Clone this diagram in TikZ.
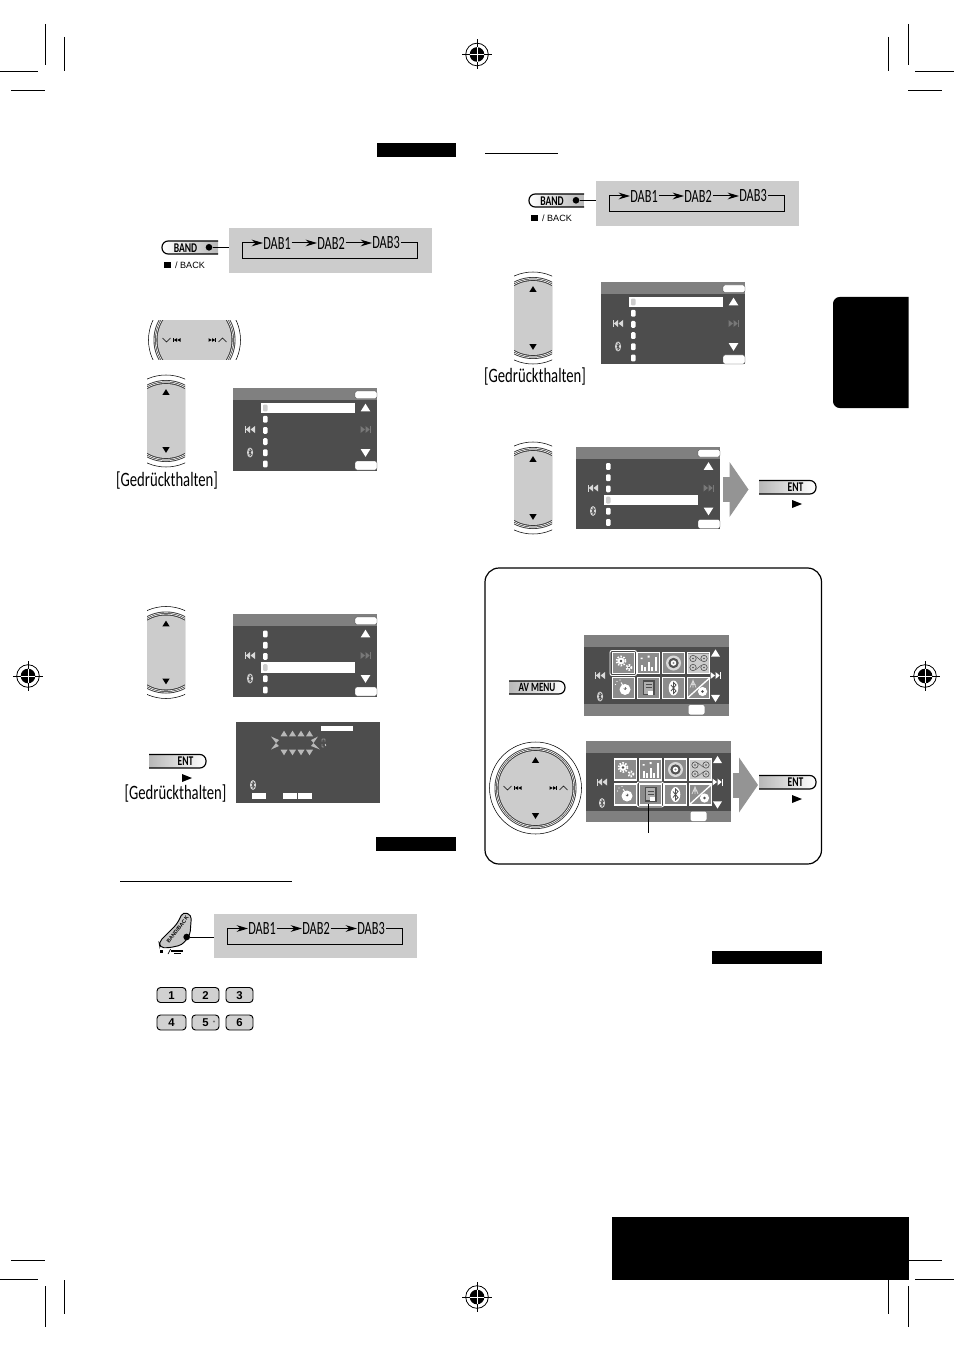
\documentclass[tikz,border=0pt]{standalone}
\usepackage{fontspec}
\setmainfont{Liberation Sans}
\newfontfamily\cond[FakeStretch=0.72]{Carlito}
\newfontfamily\condb[FakeStretch=0.66]{Carlito}
\usetikzlibrary{arrows.meta}
\definecolor{scrn}{HTML}{4D4D4D}
\definecolor{sbar}{HTML}{808080}
\definecolor{boxg}{HTML}{CCCCCC}
\definecolor{dimg}{HTML}{787878}
\definecolor{icong}{HTML}{8C8C8C}
\tikzset{
 crop/.style={line width=0.7pt,black},
 ring/.style={line width=0.4pt,black},
 dablabel/.style={font=\condb\fontsize{14}{14}\selectfont,inner sep=0pt},
 holdlabel/.style={font=\cond\fontsize{15.3}{16}\selectfont,inner sep=0pt},
 btnlabel/.style={font=\bfseries\cond\fontsize{10}{10}\selectfont,inner sep=0pt},
 entlabel/.style={font=\bfseries\cond\fontsize{10}{10}\selectfont,inner sep=0pt},
 smalllabel/.style={font=\fontsize{6.8}{7}\selectfont,inner sep=0pt},
 flowline/.style={line width=0.75pt,black},
 flowarrow/.style={line width=0.75pt,black,-{Stealth[length=8.5pt,width=5pt]}},
 graybox/.style={fill=boxg,draw=none,inner sep=0pt,minimum width=152.5pt,minimum height=33.5pt},
 leaddot/.style={circle,fill=black,inner sep=0pt,minimum size=5pt},
 keylabel/.style={font=\bfseries\fontsize{8.5}{9}\selectfont,inner sep=0pt},
}
\newcommand{\tup}[4]{\fill[#4] (#1-#3,#2+#3*0.8) -- (#1+#3,#2+#3*0.8) -- (#1,#2-#3*0.8) -- cycle;}
\newcommand{\tdown}[4]{\fill[#4] (#1-#3,#2-#3*0.8) -- (#1+#3,#2-#3*0.8) -- (#1,#2+#3*0.8) -- cycle;}
\newcommand{\skipback}[3]{\begin{scope}[shift={(#1,#2)}]
 \fill[#3] (-5.5,-3.5) rectangle (-4.2,3.5);
 \fill[#3] (-4.2,0) -- (0,-3.5) -- (0,3.5) -- cycle;
 \fill[#3] (0.5,0) -- (5,-3.5) -- (5,3.5) -- cycle;
\end{scope}}
\newcommand{\skipfwd}[3]{\begin{scope}[shift={(#1,#2)}]
 \fill[#3] (5.5,-3.5) rectangle (4.2,3.5);
 \fill[#3] (4.2,0) -- (0,-3.5) -- (0,3.5) -- cycle;
 \fill[#3] (-0.5,0) -- (-5,-3.5) -- (-5,3.5) -- cycle;
\end{scope}}
\newcommand{\btooth}[2]{\begin{scope}[shift={(#1,#2)}]
 \fill[white!85!black] (0,0) ellipse (3 and 5);
 \draw[scrn,line width=0.4pt] (-1.5,-1.8) -- (1.5,1.8) -- (0,3.5) -- (0,-3.5) -- (1.5,-1.8) -- (-1.5,1.8);
\end{scope}}
\newcommand{\listscreen}[3]{\begin{scope}[shift={(#1,#2)}]
 \fill[scrn] (0,0) rectangle (144,82.5);
 \fill[sbar] (0,0) rectangle (144,12);
 \fill[white,draw=scrn,line width=0.3pt,rounded corners=1.2pt] (122,3) rectangle (144,10.5);
 \fill[white,draw=scrn,line width=0.3pt,rounded corners=1.5pt] (122,73) rectangle (144,82);
 \fill[white] (28,{20+11.2*#3-5.2}) rectangle (122,{20+11.2*#3+5.2});
 \foreach \r in {0,...,5}{
  \ifnum\r=#3\relax\def\dc{boxg}\else\def\dc{white}\fi
  \fill[\dc,rounded corners=0.8pt] (30,{20+11.2*\r-3.4}) rectangle (34.5,{20+11.2*\r+3.4});
 }
 \tup{132.5}{19.5}{4.8}{white}
 \skipfwd{132.5}{41.5}{dimg}
 \tdown{132.5}{65}{4.8}{white}
 \skipback{17}{41.5}{white!85!black}
 \btooth{17}{64.5}
\end{scope}}
\newcommand{\wheelbody}{%
 \fill[white] (0,0) circle (45.7);
 \draw[ring] (0,0) circle (46);
 \fill[black!78] (0,0) circle (41);
 \draw[white,line width=0.45pt] (0,0) circle (39.8);
 \draw[white,line width=0.45pt] (0,0) circle (38.4);
 \fill[boxg] (0,0) circle (37);
}
\newcommand{\chevl}{\draw[black,line width=0.5pt] (-32,-2) -- (-28,2) -- (-24,-2);
 \fill[black] (-21.5,-1.8) rectangle (-20.8,1.8); \fill[black] (-20.8,0) -- (-17.5,-1.8) -- (-17.5,1.8) -- cycle; \fill[black] (-17.2,0) -- (-14,-1.8) -- (-14,1.8) -- cycle;}
\newcommand{\chevr}{\draw[black,line width=0.5pt] (32,2) -- (28,-2) -- (24,2);
 \fill[black] (21.5,-1.8) rectangle (20.8,1.8); \fill[black] (20.8,0) -- (17.5,-1.8) -- (17.5,1.8) -- cycle; \fill[black] (17.2,0) -- (14,-1.8) -- (14,1.8) -- cycle;}
\newcommand{\vwheel}[2]{\begin{scope}[shift={(#1,#2)}]
 \begin{scope}
  \clip (-19,-47) rectangle (19,47);
  \wheelbody
 \end{scope}
 \tup{0}{-29}{3.6}{black}
 \tdown{0}{29}{3.6}{black}
\end{scope}}
\newcommand{\hwheel}[2]{\begin{scope}[shift={(#1,#2)}]
 \begin{scope}
  \clip (-47,-19.5) rectangle (47,19.5);
  \wheelbody
 \end{scope}
 \chevl\chevr
\end{scope}}
\newcommand{\fullwheel}[2]{\begin{scope}[shift={(#1,#2)}]
 \wheelbody
 \tup{0}{-28}{3.6}{black}
 \tdown{0}{28}{3.6}{black}
 \chevl\chevr
\end{scope}}
\newcommand{\pillL}[4]{%
 \shade[left color=white,middle color=black!18,right color=black!28,rounded corners=4.6pt] (#2,#3) -- (#1,#3) -- (#1,#4) -- (#2,#4);
 \draw[black,line width=0.9pt,rounded corners=4.6pt] (#2,#3) -- (#1,#3) -- (#1,#4) -- (#2,#4);}
\newcommand{\pillR}[4]{%
 \shade[left color=black!28,middle color=black!18,right color=white,rounded corners=4.6pt] (#1,#3) -- (#2,#3) -- (#2,#4) -- (#1,#4);
 \draw[black,line width=0.9pt,rounded corners=4.6pt] (#1,#3) -- (#2,#3) -- (#2,#4) -- (#1,#4);}
\newcommand{\entbtn}[3]{%
 \pillR{#2}{#2+57}{#3}{#3+13.5}
 \node[entlabel] (#1) at (#2+36.5,#3+7) {ENT};
 \fill[black] (#2+33,#3+19.5) -- (#2+43,#3+23.5) -- (#2+33,#3+27.5) -- cycle;
}
\newcommand{\dabflow}[3]{\begin{scope}[shift={(#2,#3)}]
 \node[graybox] (#1box) at (101.5,22.5) {};
 \node[dablabel] (#1a) at (48,15) {DAB1};
 \node[dablabel] (#1b) at (102,15) {DAB2};
 \node[dablabel] (#1c) at (157,15) {DAB3};
 \coordinate (#1l) at (13,31);
 \coordinate (#1r) at (188,31);
 \draw[flowarrow] (#1a.east) ++(0.5pt,0) -- (#1b.west);
 \draw[flowarrow] (#1b.east) ++(0.5pt,0) -- (#1c.west);
 \draw[flowline] (#1c.east) ++(1pt,0) -- (#1r |- #1c.east) -- (#1r) -- (#1l) -- (#1l |- #1a.west);
 \draw[flowarrow] (#1l |- #1a.west) -- (#1a.west);
\end{scope}}
\newcommand{\regmark}[2]{\begin{scope}[shift={(#1,#2)}]
 \draw[black,line width=0.6pt] (0,0) circle (11.3);
 \fill[black] (0,0) circle (7.3);
 \draw[black,line width=0.5pt] (-15,0) -- (-7,0) (7,0) -- (15,0) (0,-15) -- (0,-7) (0,7) -- (0,15);
 \draw[white,line width=0.7pt] (-7.3,0) -- (7.3,0) (0,-7.3) -- (0,7.3);
\end{scope}}
\newcommand{\gear}[3]{%
 \draw[white,line width=1.3pt,dash pattern=on 1.1pt off 1.1pt] (#1,#2) circle (#3);
 \fill[white] (#1,#2) circle (#3*0.75);
 \fill[scrn] (#1,#2) circle (#3*0.3);}
\newcommand{\micon}[3]{\begin{scope}[shift={(#1,#2)}]
 \fill[icong] (0,0) rectangle (23,21);
 \draw[white,line width=1pt] (0,0) -- (23,0) (0,21) -- (23,21) (0.3,0) -- (0.3,21) (22.7,0) -- (22.7,21);
 \ifcase#3
  \gear{9}{8.5}{4.6}
  \gear{17}{15}{2.6}
 \or
  \foreach \bx/\bt in {3.5/12,7/14,10.5/9,14/14,17.5/4}{\fill[white] (\bx,18.5) rectangle (\bx+2.2,\bt);}
  \fill[white] (3.5,5) rectangle (5.7,6.5) (10.5,3) rectangle (12.7,5);
 \or
  \fill[white!85!black] (11.5,10.5) circle (7.5); \fill[icong!60!black] (11.5,10.5) circle (5.2); \fill[white] (11.5,10.5) circle (2.8); \fill[icong] (11.5,10.5) circle (1.2);
 \or
  \fill[white!55!icong] (1,1) rectangle (22,20);
  \foreach \cx/\cy in {6/6,17/6,6/15,17/15}{\draw[scrn,line width=0.45pt] (\cx,\cy) circle (3.2); \fill[scrn] (\cx,\cy) circle (0.9);}
  \draw[scrn,line width=0.3pt] (9,4) -- (14,8) (9,17) -- (14,13);
 \or
  \fill[white] (13,12) circle (5.5); \fill[scrn] (13,11) circle (1.5);
  \fill[white] (5,4) circle (0.7) (8,2.5) circle (0.7) (3.5,7) circle (0.7);
  \draw[white,line width=0.7pt] (13,11) -- (9,5);
 \or
  \draw[scrn,line width=0.8pt,fill=icong!70!white] (6.5,3.5) rectangle (17,17);
  \draw[scrn,line width=0.5pt] (8.5,7) -- (15,7) (8.5,10) -- (15,10);
  \fill[white] (11,13) rectangle (16,17);
 \or
  \fill[white] (11.5,10.5) ellipse (4.8 and 7.5);
  \draw[scrn,line width=0.6pt] (9,7.5) -- (14,13.5) -- (11.5,16) -- (11.5,5) -- (14,7.5) -- (9,13.5);
 \or
  \draw[white,line width=1pt] (22,1) -- (1,20);
  \draw[white!85!black,line width=0.6pt] (6,2) -- (6,10) (3,10) -- (6,3) -- (9,10) (3.5,7) -- (8.5,7);
  \fill[white] (15.5,14) circle (4.6); \fill[scrn] (15.5,14) circle (1.4);
 \fi
\end{scope}}
\newcommand{\menuscreen}[4]{\begin{scope}[shift={(#1,#2)}]
 \fill[scrn] (0,0) rectangle (145.5,81);
 \fill[sbar] (0,0) rectangle (145.5,12);
 \fill[sbar] (0,69.5) rectangle (145.5,81);
 \foreach \i/\c/\r in {0/0/0,1/1/0,2/2/0,3/3/0,4/0/1,5/1/1,6/2/1,7/3/1}{
  \micon{{28.5+25*\c}}{{18+25*\r}}{\i}
 }
 \draw[white,line width=0.7pt,rounded corners=1.5pt] ({26.5+25*#3},{16+25*#4}) rectangle ({53+25*#3},{41+25*#4});
 \fill[white,rounded corners=1.5pt] (105,70.5) rectangle (121,80);
 \tup{132}{18.5}{4.5}{white}
 \skipfwd{132}{41}{white}
 \tdown{132}{64}{4.5}{white}
 \skipback{16.5}{41}{white!85!black}
 \btooth{16.5}{62}
\end{scope}}
\newcommand{\bigarrow}[2]{\begin{scope}[shift={(#1,#2)}]
 \fill[black!42] (0,-12.5) rectangle (7,12.5);
 \fill[black!42] (6.5,-27.5) -- (25.5,0) -- (6.5,27.5) -- cycle;
\end{scope}}
\newcommand{\numkey}[4]{%
 \fill[black!18,draw=black,line width=0.7pt,rounded corners=2.6pt] (#2,#4) rectangle (#3,#4+15);
 \node[keylabel] (key#1) at ({(#2+#3)/2},#4+7.8) {#1};
}
\begin{document}
\begin{tikzpicture}[x=0.75pt,y=-0.75pt]
\useasboundingbox (0,0) rectangle (954,1351);
\fill[white] (0,0) rectangle (954,1351);
\draw[crop] (45.5,24) -- (45.5,65) (64.5,37) -- (64.5,71) (0,71) -- (38,71) (11,90) -- (45,90);
\draw[crop] (908.5,24) -- (908.5,65) (888.5,37) -- (888.5,71) (915,71) -- (954,71) (908,90) -- (942,90);
\draw[crop] (11,1260) -- (45,1260) (0,1279) -- (38,1279) (45.5,1286) -- (45.5,1327) (64.5,1280) -- (64.5,1314);
\draw[crop] (908,1260) -- (942,1260) (915,1279) -- (954,1279) (888.5,1280) -- (888.5,1314) (908.5,1286) -- (908.5,1327);
\regmark{477}{54.5}\regmark{28}{676}\regmark{925}{676}\regmark{477}{1297}
\fill[black] (377,143) rectangle (456,157.5);
\fill[black] (376,837) rectangle (456,851);
\fill[black] (712,951) rectangle (822,964);
\fill[black] (612,1217) rectangle (908.5,1280);
\fill[black] (908.5,297) [rounded corners=5pt] -- (833,297) -- (833,408) [sharp corners] -- (908.5,408) -- cycle;
\draw[black,line width=0.8pt] (485,153.5) -- (558,153.5);
\draw[black,line width=0.8pt] (120,881.5) -- (292,881.5);
\dabflow{fa}{229}{228}
\pillL{162}{218}{241}{254}
\node[btnlabel] (banda) at (185.5,247.8) {BAND};
\node[leaddot] (dota) at (209,247.3) {};
\draw[line width=0.75pt] (dota) -- (dota -| fabox.west);
\fill[black] (164,262) rectangle (171,268.5);
\node[smalllabel] (backa) at (190,265.3) {/ BACK};
\hwheel{194.5}{340}
\vwheel{166}{421}
\node[holdlabel] (holda) at (167,480.5) {[Gedrückthalten]};
\listscreen{233}{388}{0}
\vwheel{166}{652.5}
\listscreen{233}{614}{3}
\entbtn{enta}{149}{754.5}
\node[holdlabel] (holdb) at (175.5,793.5) {[Gedrückthalten]};
\fill[scrn] (236,722) rectangle (380,803);
\fill[white] (321,725.5) rectangle (353,730.5);
\foreach \tx in {284,292.5,301,309.5}{\tup{\tx}{733.5}{3.5}{black!28}\tdown{\tx}{752.5}{3.5}{black!28}}
\fill[black!28] (271,736.5) -- (279,740) -- (276,743) -- cycle;
\fill[black!28] (271,749.5) -- (279,746) -- (276,743) -- cycle;
\fill[black!28] (318,736.5) -- (311,740) -- (313.5,743) -- cycle;
\fill[black!28] (320,749.5) -- (311,746) -- (313.5,743) -- cycle;
\draw[white,line width=0.35pt] (322,739) -- (322,741.5) (325,739) -- (325,741.5) (322,739) -- (325,739) (322,744) -- (322,747) (322,747) -- (324,747) (325,744) -- (326,746);
\btooth{253}{785}
\fill[white] (252,793) rectangle (266,799);
\fill[white] (283,793) rectangle (297,799);
\fill[white] (298,793) rectangle (312,799);
\dabflow{fb}{214}{913.5}
\filldraw[black!22,draw=black,line width=0.7pt,rounded corners=3pt] (159,942) -- (177,924) -- (183,912) -- (191.5,915) -- (190,935) -- (182,945) -- (168,948) -- (160,947.5) -- cycle;
\node[font=\bfseries\fontsize{4}{4}\selectfont,rotate=52,inner sep=0pt] (remote) at (177.5,929.5) {BAND/BACK};
\node[leaddot] (dotb) at (186.7,937) {};
\draw[line width=0.75pt] (dotb) -- (dotb -| fbbox.west);
\fill[black] (160,950) rectangle (163,953);
\draw[black,line width=0.5pt] (168,954) -- (170.5,949);
\draw[black,line width=0.9pt] (171,951) -- (183,951);
\draw[black,line width=0.6pt] (174,953.5) -- (181,953.5);
\numkey{1}{157}{186}{987.5}\numkey{2}{192}{219}{987.5}\numkey{3}{226}{253}{987.5}
\numkey{4}{157}{186}{1015}\numkey{5}{192}{219}{1015}\numkey{6}{226}{253}{1015}
\fill[black!55] (214,1021.5) circle (1.2);
\dabflow{fc}{596}{181}
\pillL{529}{584}{194}{207}
\node[btnlabel] (bandb) at (552,200.8) {BAND};
\node[leaddot] (dotc) at (576,200.3) {};
\draw[line width=0.75pt] (dotc) -- (dotc -| fcbox.west);
\fill[black] (531,215) rectangle (538,221.5);
\node[smalllabel] (backb) at (557,218.3) {/ BACK};
\vwheel{533}{318}
\listscreen{601}{282}{0}
\node[holdlabel] (holdc) at (535,377) {[Gedrückthalten]};
\vwheel{533}{488}
\listscreen{576}{446.5}{3}
\bigarrow{723}{489.5}
\entbtn{entb}{759}{480.5}
\draw[black,line width=0.9pt,rounded corners=10.5pt] (485,568) rectangle (821.5,864);
\pillR{509}{565}{681}{694}
\node[font=\bfseries\cond\fontsize{9.5}{10}\selectfont,inner sep=0pt] (avmenu) at (537,687.7) {AV MENU};
\menuscreen{583.5}{634.5}{0}{0}
\fullwheel{535.5}{788}
\menuscreen{585.5}{741}{1}{1}
\bigarrow{732.5}{785}
\entbtn{entc}{759}{775.5}
\coordinate (leadend) at (648.5,833);
\coordinate (leadstart) at (648.5,804);
\draw[black,line width=0.9pt] (leadstart) -- (leadend);
\end{tikzpicture}
\end{document}
